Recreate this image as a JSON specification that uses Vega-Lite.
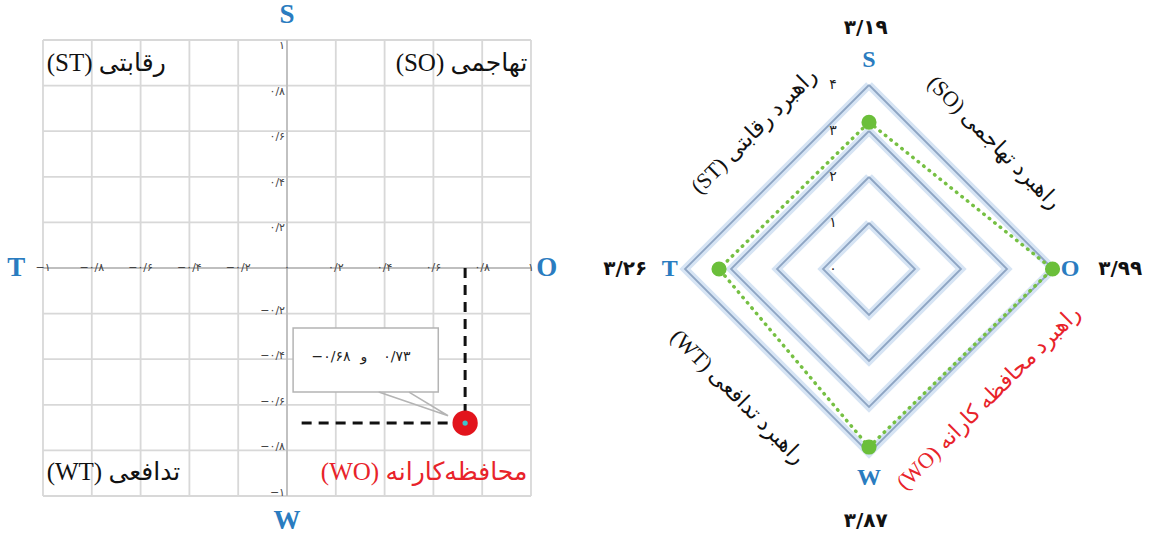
{
  "$schema": "https://vega.github.io/schema/vega-lite/v6.json",
  "width": 1152,
  "height": 534,
  "padding": 0,
  "autosize": {"type": "none"},
  "background": "white",
  "config": {"view": {"stroke": null}},
  "datasets": {
    "grid": [{"v": -1}, {"v": -0.8}, {"v": -0.6}, {"v": -0.4}, {"v": -0.2}, {"v": 0}, {"v": 0.2}, {"v": 0.4}, {"v": 0.6}, {"v": 0.8}, {"v": 1}],
    "ticks": [
      {"v": -1, "t": "−۱"}, {"v": -0.8, "t": "−۰/۸"}, {"v": -0.6, "t": "−۰/۶"}, {"v": -0.4, "t": "−۰/۴"}, {"v": -0.2, "t": "−۰/۲"},
      {"v": 0, "t": "۰"},
      {"v": 0.2, "t": "۰/۲"}, {"v": 0.4, "t": "۰/۴"}, {"v": 0.6, "t": "۰/۶"}, {"v": 0.8, "t": "۰/۸"}, {"v": 1, "t": "۱"}
    ],
    "quad": [
      {"side": "L", "q": "ST", "t": "(ST) رقابتی", "x": -0.985, "y": 0.9},
      {"side": "R", "q": "SO", "t": "(SO) تهاجمی", "x": 0.985, "y": 0.9},
      {"side": "L", "q": "WT", "t": "(WT) تدافعی", "x": -0.985, "y": -0.895},
      {"side": "R", "q": "WO", "t": "(WO) محافظه‌کارانه", "x": 0.985, "y": -0.895}
    ],
    "letters": [
      {"k": "S", "x": 0, "y": 1.11},
      {"k": "W", "x": 0, "y": -1.11},
      {"k": "T", "x": -1.11, "y": 0},
      {"k": "O", "x": 1.065, "y": 0}
    ],
    "result": [{"x": 0.73, "y": -0.68}],
    "guides": [
      {"x": 0.73, "y": 0, "x2": 0.73, "y2": -0.68},
      {"x": 0.06, "y": -0.68, "x2": 0.73, "y2": -0.68}
    ],
    "callout": [{"x": 0.025, "x2": 0.62, "y": -0.263, "y2": -0.544}],
    "calloutText": [
      {"part": "−۰/۶۸", "x": 0.18, "y": -0.39},
      {"part": "و", "x": 0.315, "y": -0.39},
      {"part": "۰/۷۳", "x": 0.45, "y": -0.39}
    ],
    "tail": [
      {"o": 0, "x": 0.376, "y": -0.544},
      {"o": 1, "x": 0.66, "y": -0.648},
      {"o": 2, "x": 0.5, "y": -0.544}
    ],
    "rings": [
      {"ring": 1, "o": 0, "x": 0, "y": 1}, {"ring": 1, "o": 1, "x": 1, "y": 0}, {"ring": 1, "o": 2, "x": 0, "y": -1}, {"ring": 1, "o": 3, "x": -1, "y": 0}, {"ring": 1, "o": 4, "x": 0, "y": 1},
      {"ring": 2, "o": 0, "x": 0, "y": 2}, {"ring": 2, "o": 1, "x": 2, "y": 0}, {"ring": 2, "o": 2, "x": 0, "y": -2}, {"ring": 2, "o": 3, "x": -2, "y": 0}, {"ring": 2, "o": 4, "x": 0, "y": 2},
      {"ring": 3, "o": 0, "x": 0, "y": 3}, {"ring": 3, "o": 1, "x": 3, "y": 0}, {"ring": 3, "o": 2, "x": 0, "y": -3}, {"ring": 3, "o": 3, "x": -3, "y": 0}, {"ring": 3, "o": 4, "x": 0, "y": 3},
      {"ring": 4, "o": 0, "x": 0, "y": 4}, {"ring": 4, "o": 1, "x": 4, "y": 0}, {"ring": 4, "o": 2, "x": 0, "y": -4}, {"ring": 4, "o": 3, "x": -4, "y": 0}, {"ring": 4, "o": 4, "x": 0, "y": 4}
    ],
    "ringLabels": [
      {"r": 0, "t": "۰"}, {"r": 1, "t": "۱"}, {"r": 2, "t": "۲"}, {"r": 3, "t": "۳"}, {"r": 4, "t": "۴"}
    ],
    "scores": [
      {"axis": "S", "score": 3.19, "o": 0, "x": 0, "y": 3.19},
      {"axis": "O", "score": 3.99, "o": 1, "x": 3.99, "y": 0},
      {"axis": "W", "score": 3.87, "o": 2, "x": 0, "y": -3.87},
      {"axis": "T", "score": 3.26, "o": 3, "x": -3.26, "y": 0},
      {"axis": "S", "score": 3.19, "o": 4, "x": 0, "y": 3.19}
    ],
    "rletters": [
      {"k": "S", "x": 0, "y": 4.54},
      {"k": "O", "x": 4.37, "y": 0},
      {"k": "W", "x": 0, "y": -4.54},
      {"k": "T", "x": -4.33, "y": 0}
    ],
    "rvalues": [
      {"k": "S", "t": "۳/۱۹", "x": -0.07, "y": 5.24},
      {"k": "O", "t": "۳/۹۹", "x": 5.46, "y": 0},
      {"k": "W", "t": "۳/۸۷", "x": -0.07, "y": -5.48},
      {"k": "T", "t": "۳/۲۶", "x": -5.3, "y": 0}
    ],
    "edges": [
      {"edge": "ST", "dir": "up", "t": "(ST) راهبرد رقابتی", "x": -2.5, "y": 3.0},
      {"edge": "SO", "dir": "down", "t": "(SO) راهبرد تهاجمی", "x": 2.72, "y": 2.75},
      {"edge": "WT", "dir": "down", "t": "(WT) راهبرد تدافعی", "x": -2.85, "y": -2.78},
      {"edge": "WO", "dir": "up", "t": "(WO) راهبرد محافظه کارانه", "x": 2.6, "y": -2.8}
    ]
  },
  "layer": [
    {
      "layer": [
        {
          "data": {"name": "grid"},
          "mark": {"type": "rule", "color": "#d8d8d8", "strokeWidth": 1.8},
          "encoding": {
            "x": {"field": "v", "type": "quantitative",
              "scale": {"domain": [-1, 1], "range": [43, 531], "nice": false, "zero": false}, "axis": null},
            "y": {"datum": -1,
              "scale": {"domain": [-1, 1], "range": [496, 40], "nice": false, "zero": false}, "axis": null},
            "y2": {"datum": 1}
          }
        },
        {
          "data": {"name": "grid"},
          "mark": {"type": "rule", "color": "#d8d8d8", "strokeWidth": 1.8},
          "encoding": {
            "y": {"field": "v", "type": "quantitative", "axis": null},
            "x": {"datum": -1, "axis": null},
            "x2": {"datum": 1}
          }
        },
        {
          "data": {"name": "grid"},
          "transform": [{"filter": "datum.v == 0"}],
          "mark": {"type": "rule", "color": "#a6a6a6", "strokeWidth": 1},
          "encoding": {
            "x": {"field": "v", "type": "quantitative", "axis": null},
            "y": {"datum": -1, "axis": null},
            "y2": {"datum": 1}
          }
        },
        {
          "data": {"name": "grid"},
          "transform": [{"filter": "datum.v == 0"}],
          "mark": {"type": "rule", "color": "#a6a6a6", "strokeWidth": 1},
          "encoding": {
            "y": {"field": "v", "type": "quantitative", "axis": null},
            "x": {"datum": -1, "axis": null},
            "x2": {"datum": 1}
          }
        },
        {
          "data": {"name": "ticks"},
          "mark": {"type": "text", "align": "center", "baseline": "middle", "fontSize": 11, "font": "DejaVu Sans", "color": "#444"},
          "encoding": {
            "x": {"field": "v", "type": "quantitative", "axis": null},
            "y": {"datum": 0, "axis": null},
            "text": {"field": "t"}
          }
        },
        {
          "data": {"name": "ticks"},
          "transform": [{"filter": "datum.v > 0"}],
          "mark": {"type": "text", "align": "right", "baseline": "middle", "fontSize": 11, "font": "DejaVu Sans", "color": "#444", "dx": -2, "dy": 6},
          "encoding": {
            "y": {"field": "v", "type": "quantitative", "axis": null},
            "x": {"datum": 0, "axis": null},
            "text": {"field": "t"}
          }
        },
        {
          "data": {"name": "ticks"},
          "transform": [{"filter": "datum.v < 0"}],
          "mark": {"type": "text", "align": "right", "baseline": "middle", "fontSize": 11, "font": "DejaVu Sans", "color": "#444", "dx": -2, "dy": -3},
          "encoding": {
            "y": {"field": "v", "type": "quantitative", "axis": null},
            "x": {"datum": 0, "axis": null},
            "text": {"field": "t"}
          }
        },
        {
          "data": {"name": "quad"},
          "transform": [{"filter": "datum.side == 'L'"}],
          "mark": {"type": "text", "align": "left", "baseline": "middle", "fontSize": 25, "font": "Liberation Serif, DejaVu Sans"},
          "encoding": {
            "x": {"field": "x", "type": "quantitative", "axis": null},
            "y": {"field": "y", "type": "quantitative", "axis": null},
            "text": {"field": "t"},
            "color": {"condition": {"test": "datum.q == 'WO'", "value": "#e8232a"}, "value": "#111"}
          }
        },
        {
          "data": {"name": "quad"},
          "transform": [{"filter": "datum.side == 'R'"}],
          "mark": {"type": "text", "align": "right", "baseline": "middle", "fontSize": 25, "font": "Liberation Serif, DejaVu Sans"},
          "encoding": {
            "x": {"field": "x", "type": "quantitative", "axis": null},
            "y": {"field": "y", "type": "quantitative", "axis": null},
            "text": {"field": "t"},
            "color": {"condition": {"test": "datum.q == 'WO'", "value": "#e8232a"}, "value": "#111"}
          }
        },
        {
          "data": {"name": "letters"},
          "mark": {"type": "text", "align": "center", "baseline": "middle", "fontSize": 27, "fontWeight": "bold", "font": "Liberation Serif", "color": "#2a7cc0"},
          "encoding": {
            "x": {"field": "x", "type": "quantitative", "axis": null},
            "y": {"field": "y", "type": "quantitative", "axis": null},
            "text": {"field": "k"}
          }
        },
        {
          "data": {"name": "guides"},
          "mark": {"type": "rule", "color": "#111", "strokeWidth": 3, "strokeDash": [10, 7]},
          "encoding": {
            "x": {"field": "x", "type": "quantitative", "axis": null},
            "y": {"field": "y", "type": "quantitative", "axis": null},
            "x2": {"field": "x2"},
            "y2": {"field": "y2"}
          }
        },
        {
          "data": {"name": "result"},
          "mark": {"type": "point", "filled": true, "size": 640, "color": "#e2141c", "opacity": 1},
          "encoding": {
            "x": {"field": "x", "type": "quantitative", "axis": null},
            "y": {"field": "y", "type": "quantitative", "axis": null}
          }
        },
        {
          "data": {"name": "result"},
          "mark": {"type": "point", "filled": true, "size": 28, "color": "#3cc4cc", "opacity": 1},
          "encoding": {
            "x": {"field": "x", "type": "quantitative", "axis": null},
            "y": {"field": "y", "type": "quantitative", "axis": null}
          }
        },
        {
          "data": {"name": "callout"},
          "mark": {"type": "rect", "fill": "white", "stroke": "#b4b4b4", "strokeWidth": 1.5},
          "encoding": {
            "x": {"field": "x", "type": "quantitative", "axis": null},
            "x2": {"field": "x2"},
            "y": {"field": "y", "type": "quantitative", "axis": null},
            "y2": {"field": "y2"}
          }
        },
        {
          "data": {"name": "tail"},
          "mark": {"type": "line", "color": "#b4b4b4", "strokeWidth": 1.5},
          "encoding": {
            "x": {"field": "x", "type": "quantitative", "axis": null},
            "y": {"field": "y", "type": "quantitative", "axis": null},
            "order": {"field": "o"}
          }
        },
        {
          "data": {"name": "calloutText"},
          "mark": {"type": "text", "align": "center", "baseline": "middle", "fontSize": 14, "font": "DejaVu Sans", "color": "#222"},
          "encoding": {
            "x": {"field": "x", "type": "quantitative", "axis": null},
            "y": {"field": "y", "type": "quantitative", "axis": null},
            "text": {"field": "part"}
          }
        }
      ]
    },
    {
      "layer": [
        {
          "data": {"name": "rings"},
          "mark": {"type": "line", "color": "#d6e4f4", "strokeWidth": 8, "strokeJoin": "miter"},
          "encoding": {
            "x": {"field": "x", "type": "quantitative",
              "scale": {"domain": [-4, 4], "range": [685, 1053], "nice": false, "zero": false}, "axis": null},
            "y": {"field": "y", "type": "quantitative",
              "scale": {"domain": [-4, 4], "range": [453, 85], "nice": false, "zero": false}, "axis": null},
            "detail": {"field": "ring"},
            "order": {"field": "o"}
          }
        },
        {
          "data": {"name": "rings"},
          "mark": {"type": "line", "color": "#8ea5c3", "strokeWidth": 1.8, "strokeJoin": "miter"},
          "encoding": {
            "x": {"field": "x", "type": "quantitative", "axis": null},
            "y": {"field": "y", "type": "quantitative", "axis": null},
            "detail": {"field": "ring"},
            "order": {"field": "o"}
          }
        },
        {
          "data": {"name": "ringLabels"},
          "mark": {"type": "text", "align": "center", "baseline": "middle", "fontSize": 14, "font": "DejaVu Sans", "color": "#222", "dx": -36},
          "encoding": {
            "x": {"datum": 0, "axis": null},
            "y": {"field": "r", "type": "quantitative", "axis": null},
            "text": {"field": "t"}
          }
        },
        {
          "data": {"name": "scores"},
          "mark": {"type": "line", "color": "#76c043", "strokeWidth": 3.5, "strokeDash": [0.5, 6.5], "strokeCap": "round"},
          "encoding": {
            "x": {"field": "x", "type": "quantitative", "axis": null},
            "y": {"field": "y", "type": "quantitative", "axis": null},
            "order": {"field": "o"}
          }
        },
        {
          "data": {"name": "scores"},
          "transform": [{"filter": "datum.o < 4"}],
          "mark": {"type": "point", "filled": true, "size": 230, "color": "#6bbf3a", "opacity": 1},
          "encoding": {
            "x": {"field": "x", "type": "quantitative", "axis": null},
            "y": {"field": "y", "type": "quantitative", "axis": null}
          }
        },
        {
          "data": {"name": "rletters"},
          "mark": {"type": "text", "align": "center", "baseline": "middle", "fontSize": 24, "fontWeight": "bold", "font": "Liberation Serif", "color": "#2a7cc0"},
          "encoding": {
            "x": {"field": "x", "type": "quantitative", "axis": null},
            "y": {"field": "y", "type": "quantitative", "axis": null},
            "text": {"field": "k"}
          }
        },
        {
          "data": {"name": "rvalues"},
          "mark": {"type": "text", "align": "center", "baseline": "middle", "fontSize": 20, "fontWeight": "bold", "font": "DejaVu Sans", "color": "#111"},
          "encoding": {
            "x": {"field": "x", "type": "quantitative", "axis": null},
            "y": {"field": "y", "type": "quantitative", "axis": null},
            "text": {"field": "t"}
          }
        },
        {
          "data": {"name": "edges"},
          "transform": [{"filter": "datum.dir == 'down'"}],
          "mark": {"type": "text", "align": "center", "baseline": "middle", "fontSize": 22, "angle": 45, "font": "Liberation Serif, DejaVu Sans"},
          "encoding": {
            "x": {"field": "x", "type": "quantitative", "axis": null},
            "y": {"field": "y", "type": "quantitative", "axis": null},
            "text": {"field": "t"},
            "color": {"condition": {"test": "datum.edge == 'WO'", "value": "#e8232a"}, "value": "#111"}
          }
        },
        {
          "data": {"name": "edges"},
          "transform": [{"filter": "datum.dir == 'up'"}],
          "mark": {"type": "text", "align": "center", "baseline": "middle", "fontSize": 22, "angle": 315, "font": "Liberation Serif, DejaVu Sans"},
          "encoding": {
            "x": {"field": "x", "type": "quantitative", "axis": null},
            "y": {"field": "y", "type": "quantitative", "axis": null},
            "text": {"field": "t"},
            "color": {"condition": {"test": "datum.edge == 'WO'", "value": "#e8232a"}, "value": "#111"}
          }
        }
      ]
    }
  ],
  "resolve": {
    "scale": {"x": "independent", "y": "independent"},
    "axis": {"x": "independent", "y": "independent"}
  }
}
